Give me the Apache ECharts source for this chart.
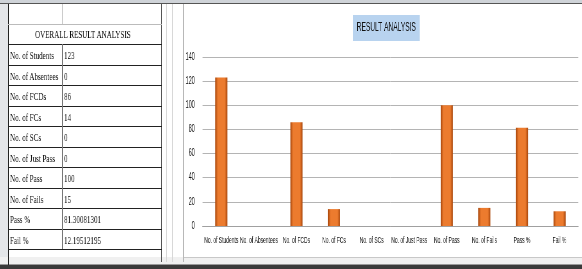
<!DOCTYPE html>
<html>
<head>
<meta charset="utf-8">
<script src="https://cdn.jsdelivr.net/npm/echarts@6/dist/echarts.min.js"></script>
<style>
  html, body { margin: 0; padding: 0; }
  body { width: 582px; height: 269px; position: relative; overflow: hidden; background: #fff; font-family: "Liberation Serif", serif; }
  .abs { position: absolute; }
  .hl { position: absolute; height: 1px; }
  .vl { position: absolute; width: 1px; }
  .txt { position: absolute; font-size: 11px; line-height: 12px; color: #000; white-space: nowrap;
         transform: scaleX(0.64); transform-origin: left center; will-change: transform; }
  /* the screenshot is squeezed sideways, so the chart is drawn wider and squeezed too */
  #chart { position: absolute; left: 184px; top: 7px; width: 724px; height: 250px;
           transform: scaleX(0.55); transform-origin: left top; }
</style>
</head>
<body>
<div id="sheet"></div>
<div id="chart"></div>
<script>
// table rows / chart categories
var labels = ['No. of Students', 'No. of Absentees', 'No. of FCDs', 'No. of FCs', 'No. of SCs',
  'No. of Just Pass', 'No. of Pass', 'No. of Fails', 'Pass %', 'Fail %'];
var cellText = ['123', '0', '86', '14', '0', '0', '100', '15', '81.30081301', '12.19512195'];
var values = [123, 0, 86, 14, 0, 0, 100, 15, 81.30081301, 12.19512195];
var yTicks = [0, 20, 40, 60, 80, 100, 120, 140];

// --- spreadsheet part (plain divs) ---
var sheet = document.getElementById('sheet');
function add(cls, css, text) {
  var d = document.createElement('div');
  d.className = cls;
  d.style.cssText = css;
  if (text !== undefined) d.textContent = text;
  sheet.appendChild(d);
  return d;
}
// window chrome
add('abs', 'left:0;top:0;width:582px;height:3px;background:#cfd3d8;');
add('hl', 'left:0;top:3px;width:582px;background:#555;');
add('abs', 'left:0;top:4px;width:8px;height:265px;background:#e4e6e9;');
add('abs', 'left:0;top:257px;width:582px;height:8px;background:#f0f0f0;');
add('hl', 'left:184px;top:257px;width:398px;background:#c8c8c8;');
add('hl', 'left:0;top:264px;width:582px;background:#999;');
add('abs', 'left:0;top:265px;width:582px;height:4px;background:#3a3a3a;');
// sheet column lines
add('vl', 'left:166px;top:4px;height:258px;background:#d8d8d8;');
add('vl', 'left:172px;top:4px;height:258px;background:#d8d8d8;');
add('vl', 'left:183px;top:4px;height:258px;background:#b8b8b8;');
// table frame
add('vl', 'left:8px;top:4px;height:261px;background:#222;');
add('vl', 'left:161px;top:4px;height:258px;background:#555;');
add('vl', 'left:62px;top:4px;height:20px;background:#ccc;');
add('hl', 'left:8px;top:24px;width:154px;background:#bbb;');
add('txt', 'left:35px;top:28px;', 'OVERALL RESULT ANALYSIS');
var rowTop = 44, rowH = 20.5;
for (var i = 0; i < labels.length; i++) {
  var y = rowTop + i * rowH;
  add('hl', 'left:8px;top:' + Math.round(y) + 'px;width:154px;background:#222;');
  add('txt', 'left:10px;top:' + Math.round(y + 5) + 'px;', labels[i]);
  add('txt', 'left:64px;top:' + Math.round(y + 5) + 'px;', cellText[i]);
}
add('hl', 'left:8px;top:' + Math.round(rowTop + labels.length * rowH) + 'px;width:154px;background:#222;');
add('vl', 'left:62px;top:44px;height:' + Math.round(labels.length * rowH) + 'px;background:#777;');

// --- chart ---
var font = '"Liberation Sans", Arial, sans-serif';
var myChart = echarts.init(document.getElementById('chart'));
var option = {
  backgroundColor: '#fff',
  animation: false,
  title: {
    text: 'RESULT ANALYSIS',
    left: 307,
    top: 8,
    padding: [7, 7, 7, 7],
    backgroundColor: '#b8d3ef',
    textStyle: { fontFamily: font, fontSize: 12, fontWeight: 'normal', color: '#111' }
  },
  grid: { left: 29, right: 7, top: 50, bottom: 31 },
  xAxis: {
    type: 'category',
    data: labels,
    axisLine: { lineStyle: { color: '#a0a0a0' } },
    axisTick: { show: false },
    axisLabel: { interval: 0, fontSize: 9, fontFamily: font, color: '#111', margin: 10 }
  },
  yAxis: {
    type: 'value',
    min: yTicks[0],
    max: yTicks[yTicks.length - 1],
    interval: 20,
    axisLine: { show: false },
    axisTick: { show: false },
    splitLine: { lineStyle: { color: '#b4b4b4' } },
    axisLabel: { fontSize: 10, fontFamily: font, color: '#111', margin: 14 }
  },
  series: [{
    type: 'bar',
    data: values,
    barWidth: 22,
    itemStyle: {
      color: new echarts.graphic.LinearGradient(0, 0, 1, 0, [
        { offset: 0, color: '#a8460b' },
        { offset: 0.22, color: '#ec7b2e' },
        { offset: 0.78, color: '#ec7b2e' },
        { offset: 1, color: '#a8460b' }
      ])
    }
  }]
};
myChart.setOption(option);
</script>
</body>
</html>
